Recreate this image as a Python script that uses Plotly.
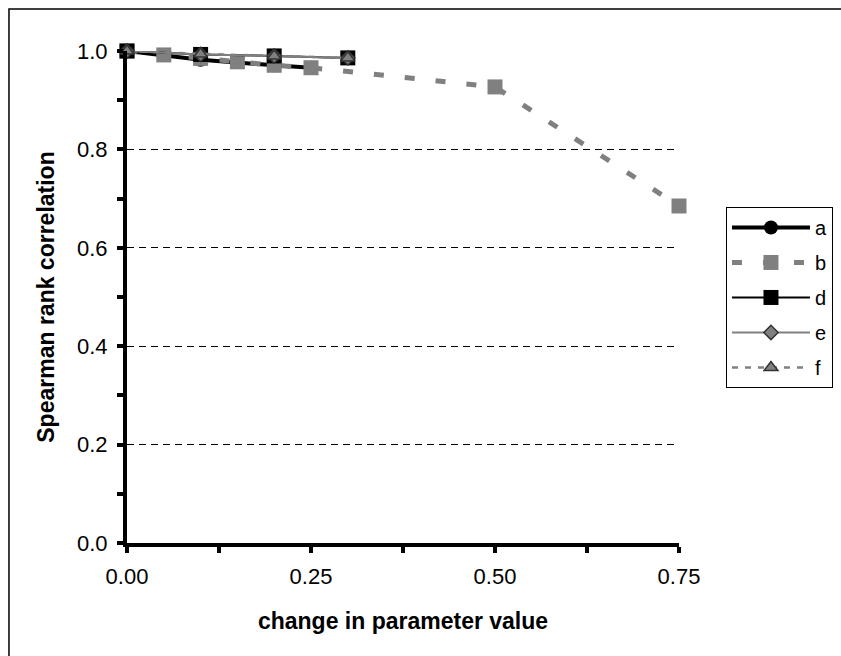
import plotly.graph_objects as go

# Spearman rank correlation versus change in parameter value, per parameter
x_a = [0.0, 0.1, 0.2, 0.25]
y_a = [1.0, 0.982, 0.971, 0.966]

x_b = [0.0, 0.05, 0.1, 0.15, 0.2, 0.25, 0.5, 0.75]
y_b = [1.0, 0.992, 0.985, 0.978, 0.971, 0.966, 0.927, 0.685]

x_d = [0.0, 0.1, 0.2, 0.3]
y_d = [1.0, 0.993, 0.990, 0.986]

x_e = [0.0, 0.1, 0.2, 0.3]
y_e = [1.0, 0.993, 0.990, 0.986]

x_f = [0.0, 0.1, 0.2, 0.3]
y_f = [1.0, 0.994, 0.990, 0.986]

x_tickvals = [0.0, 0.25, 0.5, 0.75]
y_tickvals = [0.0, 0.2, 0.4, 0.6, 0.8, 1.0]

GREY = "#808080"
FONT = "Liberation Sans, Arial, sans-serif"

fig = go.Figure()

fig.add_trace(go.Scatter(
    x=x_a, y=y_a, name="a", mode="lines+markers", legendgroup="a",
    line=dict(color="black", width=4),
    marker=dict(symbol="circle", size=14, color="black"),
    cliponaxis=False,
))
fig.add_trace(go.Scatter(
    x=x_b, y=y_b, name="b", mode="lines+markers", legendgroup="b",
    line=dict(color=GREY, width=5, dash="10px,21px"),
    marker=dict(symbol="square", size=15, color=GREY),
    cliponaxis=False,
))
fig.add_trace(go.Scatter(
    x=x_d, y=y_d, name="d", mode="lines+markers", legendgroup="d",
    line=dict(color="black", width=2),
    marker=dict(symbol="square", size=15, color="black"),
    cliponaxis=False,
))
fig.add_trace(go.Scatter(
    x=x_e, y=y_e, name="e", mode="lines+markers", legendgroup="e",
    line=dict(color=GREY, width=2),
    marker=dict(symbol="diamond", size=11, color=GREY,
                line=dict(color="#333333", width=1.5)),
    cliponaxis=False,
))
fig.add_trace(go.Scatter(
    x=x_f, y=y_f, name="f", mode="lines+markers", legendgroup="f",
    line=dict(color=GREY, width=2.5, dash="6px,7px"),
    marker=dict(symbol="triangle-up", size=12, color=GREY,
                line=dict(color="#333333", width=1.5)),
    cliponaxis=False,
))

tick_font = dict(family=FONT, size=22, color="black")
title_font = dict(family=FONT, size=23, color="black", weight="bold")

fig.update_layout(
    width=841, height=656,
    margin=dict(l=127, r=162, t=51, b=113, autoexpand=False),
    paper_bgcolor="white", plot_bgcolor="white",
    font=dict(family=FONT, color="black"),
    xaxis=dict(
        range=[0, 0.75], tickvals=x_tickvals, tickformat=".2f",
        showline=True, linecolor="black", linewidth=4,
        ticks="outside", ticklen=6, tickwidth=4, tickcolor="black",
        minor=dict(dtick=0.125, tick0=0, ticks="outside", ticklen=6,
                   tickwidth=4, tickcolor="black", showgrid=False),
        showgrid=False, zeroline=False, tickfont=tick_font,
        ticklabelstandoff=5,
        title=dict(text="change in parameter value", font=title_font, standoff=25),
    ),
    yaxis=dict(
        range=[0, 1.0], tickvals=y_tickvals, tickformat=".1f",
        showline=True, linecolor="black", linewidth=4,
        ticks="outside", ticklen=6, tickwidth=4, tickcolor="black",
        minor=dict(dtick=0.1, tick0=0, ticks="outside", ticklen=6,
                   tickwidth=4, tickcolor="black", showgrid=False),
        showgrid=True, gridcolor="black", gridwidth=1, griddash="7px,5px",
        zeroline=False, tickfont=tick_font,
        ticklabelstandoff=5,
        title=dict(text="Spearman rank correlation", font=title_font, standoff=17),
    ),
    # companion axes supplying the inner half of each crossing tick
    xaxis2=dict(
        overlaying="x", anchor="y", side="bottom", range=[0, 0.75],
        tick0=0, dtick=0.125, ticks="inside", ticklen=6, tickwidth=4,
        tickcolor="black", showticklabels=False, showgrid=False,
        showline=False, zeroline=False,
    ),
    yaxis2=dict(
        overlaying="y", anchor="x", side="left", range=[0, 1.0],
        tick0=0, dtick=0.1, ticks="inside", ticklen=6, tickwidth=4,
        tickcolor="black", showticklabels=False, showgrid=False,
        showline=False, zeroline=False,
    ),
    legend=dict(
        x=1.0851, y=0.683, xanchor="left", yanchor="top",
        bordercolor="black", borderwidth=1, bgcolor="white",
        font=dict(family=FONT, size=20, color="black"),
        itemwidth=78, traceorder="grouped", tracegroupgap=6,
    ),
    shapes=[dict(
        type="rect", xref="paper", yref="paper",
        x0=-0.2138, x1=1.5, y0=-0.5, y1=1.0854,
        line=dict(color="black", width=1.5), layer="below",
    )],
)

fig.write_html("out.html")
